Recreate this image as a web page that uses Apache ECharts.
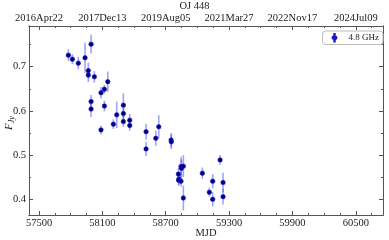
<!DOCTYPE html>
<html><head><meta charset="utf-8">
<script src="https://cdn.jsdelivr.net/npm/echarts@6/dist/echarts.min.js"></script>
<style>html,body{margin:0;padding:0;background:#fff}#c{width:389px;height:240px}</style>
</head><body><div id="c"></div>
<script>
const title = "OJ 448";
const seriesName = "4.8 GHz";
const mjd  = [57778,57816,57872,57936,57993,57967,57967,58024,57993,57993,58087,58119,58151,58119,58087,58204,58236,58299,58299,58299,58359,58359,58514,58514,58606,58634,58751,58753,58820,58825,58822,58845,58845,58848,58867,58867,59047,59113,59145,59145,59215,59243,59243];
const flux = [0.726,0.717,0.708,0.720,0.751,0.691,0.681,0.677,0.621,0.604,0.641,0.649,0.666,0.611,0.557,0.570,0.591,0.613,0.594,0.576,0.579,0.567,0.553,0.514,0.538,0.564,0.534,0.530,0.457,0.446,0.443,0.441,0.474,0.470,0.475,0.403,0.459,0.416,0.441,0.400,0.489,0.438,0.406];
const ferr = [0.013,0.011,0.014,0.034,0.021,0.018,0.016,0.013,0.015,0.018,0.013,0.010,0.023,0.012,0.010,0.011,0.030,0.027,0.012,0.012,0.014,0.012,0.018,0.016,0.017,0.026,0.016,0.016,0.014,0.013,0.012,0.012,0.022,0.020,0.025,0.028,0.013,0.010,0.016,0.016,0.011,0.022,0.018];
const xMajor = [57500,58100,58700,59300,59900,60500];
const xMinor = [57650,57800,57950,58250,58400,58550,58850,59000,59150,59450,59600,59750,60050,60200,60350,60650];
const topLabels = ["2016Apr22","2017Dec13","2019Aug05","2021Mar27","2022Nov17","2024Jul09"];
const yMajor = [0.4,0.5,0.6,0.7];
const yMinor = [0.45,0.55,0.65,0.75];
const xRange = [57405, 60758];
const yRange = [0.3645, 0.792];

const font = "'Liberation Serif', 'Times New Roman', Times, serif";
const axisCol = "#555";
const txtCol = "#222";
const fs = 10.5;
function xAx(pos, major, showLabel) {
  return {
    type: 'value', position: pos, min: xRange[0], max: xRange[1],
    axisLine: {show: true, onZero: false, lineStyle: {color: axisCol, width: 1}},
    axisTick: {show: true, inside: true, length: major ? 4 : 2, customValues: major ? xMajor : xMinor, lineStyle: {color: axisCol}},
    axisLabel: {show: showLabel, customValues: xMajor, margin: pos === 'top' ? 2 : 3, fontFamily: font, fontSize: fs, color: txtCol,
      formatter: pos === 'top' ? (v => topLabels[xMajor.indexOf(v)] || '') : (v => String(v))},
    splitLine: {show: false}
  };
}
function yAx(pos, major, showLabel) {
  return {
    type: 'value', position: pos, min: yRange[0], max: yRange[1],
    axisLine: {show: true, onZero: false, lineStyle: {color: axisCol, width: 1}},
    axisTick: {show: true, inside: true, length: major ? 4 : 2, customValues: major ? yMajor : yMinor, lineStyle: {color: axisCol}},
    axisLabel: {show: showLabel, customValues: yMajor, margin: 3, fontFamily: font, fontSize: fs, color: txtCol,
      formatter: v => v.toFixed(1)},
    splitLine: {show: false}
  };
}
const xs = [xAx('bottom', true, true), xAx('bottom', false, false), xAx('top', true, true), xAx('top', false, false)];
xs[0].name = 'MJD'; xs[0].nameLocation = 'middle'; xs[0].nameGap = 13; xs[0].nameMoveOverlap = false;
xs[0].nameTextStyle = {fontFamily: font, fontSize: fs, color: txtCol};
const ys = [yAx('left', true, true), yAx('left', false, false), yAx('right', true, false), yAx('right', false, false)];

const errData = mjd.map((m, i) => [m, flux[i] - ferr[i], flux[i] + ferr[i]]);
const ptData = mjd.map((m, i) => [m, flux[i]]);

const chart = echarts.init(document.getElementById('c'), null, {renderer: 'canvas'});
chart.setOption({
  animation: false,
  backgroundColor: '#fff',
  title: {text: title, left: 'center', top: 0, padding: [1, 0, 0, 0], textStyle: {fontFamily: font, fontSize: fs, fontWeight: 'normal', color: txtCol}},
  grid: {left: 29, right: 6, top: 26, bottom: 25, containLabel: false, outerBoundsMode: 'none'},
  xAxis: xs,
  yAxis: ys,
  graphic: [{
    type: 'text', x: 9, y: 123, rotation: Math.PI / 2, z: 10,
    style: {
      text: '{f|F}{s|Jy}', align: 'center', verticalAlign: 'middle',
      rich: {
        f: {fontFamily: font, fontStyle: 'italic', fontSize: 11, fill: txtCol},
        s: {fontFamily: font, fontStyle: 'italic', fontSize: 8, fill: txtCol, verticalAlign: 'bottom', padding: [5, 0, 0, 0]}
      }
    }
  }],
  legend: {
    show: true, right: 6, top: 31, orient: 'horizontal',
    padding: [2, 4, 2, 9],
    itemWidth: 4, itemHeight: 10,
    borderColor: '#bbb', borderWidth: 1, borderRadius: 3, backgroundColor: '#fff',
    textStyle: {fontFamily: font, fontSize: 9, color: txtCol, padding: [0, 0, 0, 7]},
    data: [{name: seriesName, icon: 'path://M1.7,0 L2.3,0 L2.3,3.6 A1.6,1.6 0 1 1 2.3,6.4 L2.3,10 L1.7,10 L1.7,6.4 A1.6,1.6 0 1 1 1.7,3.6 Z'}]
  },
  series: [
    {
      name: seriesName + ' err', type: 'custom', xAxisIndex: 0, yAxisIndex: 0, z: 2,
      renderItem: function (params, api) {
        const x = api.value(0);
        const lo = api.coord([x, api.value(1)]);
        const hi = api.coord([x, api.value(2)]);
        return {type: 'line', shape: {x1: lo[0], y1: lo[1], x2: hi[0], y2: hi[1]},
          style: {stroke: 'rgba(70,70,255,0.5)', lineWidth: 1.6}};
      },
      encode: {x: 0, y: [1, 2]},
      data: errData
    },
    {
      name: seriesName, type: 'scatter', xAxisIndex: 0, yAxisIndex: 0, z: 3,
      symbol: 'circle', symbolSize: 4.5,
      itemStyle: {color: '#00007a', borderColor: '#1a1acc', borderWidth: 0.6, opacity: 1},
      data: ptData
    }
  ]
});
</script></body></html>
